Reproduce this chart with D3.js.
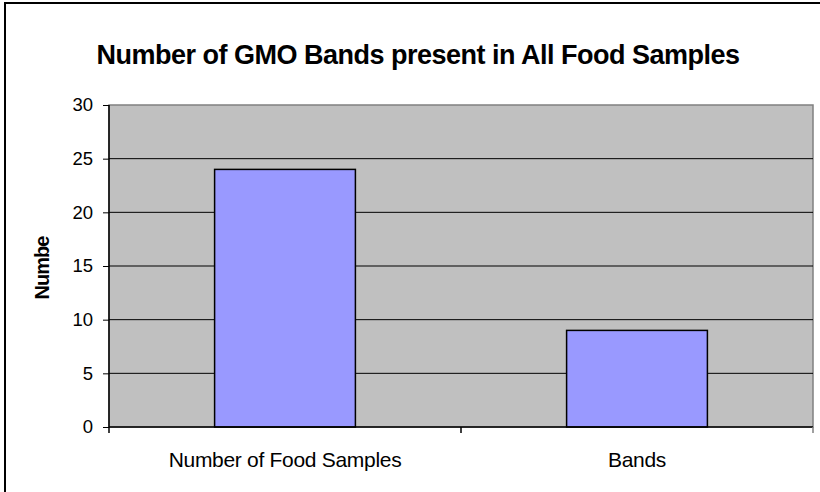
<!DOCTYPE html>
<html>
<head>
<meta charset="utf-8">
<script src="https://cdn.jsdelivr.net/npm/d3@7"></script>
<style>
body{margin:0;background:#fff;}
text{font-family:"Liberation Sans",Arial,sans-serif;}
</style>
</head>
<body>
<svg id="chart" width="820" height="492"></svg>
<script>
let categories = ["Number of Food Samples","Bands"];
let values = [24,9];
let yTicks = [0,5,10,15,20,25,30];
let title = "Number of GMO Bands present in All Food Samples";
let yTitle = "Numbe";

let svg = d3.select("#chart");
let pLeft = 109, pTop = 105, pRight = 813, pBottom = 427;

//outer frame (image is cropped on right and bottom)
svg.append("rect").attr("x",5).attr("y",3).attr("width",830).attr("height",510)
    .attr("fill","none").attr("stroke","#000").attr("stroke-width",2);

let x = d3.scaleBand().domain(categories).range([pLeft,pRight]).paddingInner(0.6).paddingOuter(0.3);
let y = d3.scaleLinear().domain([0,30]).range([pBottom,pTop]);

//plot area
svg.append("rect").attr("x",pLeft).attr("y",pTop).attr("width",pRight-pLeft).attr("height",pBottom-pTop)
    .attr("fill","#c0c0c0").attr("stroke","#808080").attr("stroke-width",1.5);

//gridlines
svg.append("g").selectAll("line").data(yTicks.filter(d=>d>0 && d<30)).enter().append("line")
    .attr("x1",pLeft).attr("x2",pRight).attr("y1",d=>y(d)).attr("y2",d=>y(d))
    .attr("stroke","#000").attr("stroke-width",1);

//bars
svg.append("g").selectAll("rect").data(values).enter().append("rect")
    .attr("x",(d,i)=>x(categories[i])).attr("width",x.bandwidth())
    .attr("y",d=>y(d)).attr("height",d=>pBottom-y(d))
    .attr("fill","#9999ff").attr("stroke","#000").attr("stroke-width",1.5);

//y axis
let yAxis = d3.axisLeft(y).tickValues(yTicks).tickSize(6).tickPadding(10);
let gy = svg.append("g").attr("transform","translate("+pLeft+",0)").call(yAxis);
gy.select(".domain").attr("stroke","#000").attr("stroke-width",1.5).attr("d","M0,"+pTop+"V"+pBottom);
gy.selectAll("text").attr("font-size",18.5).attr("fill","#000").attr("font-family","Liberation Sans, Arial, sans-serif");

//x axis
let xEdges = [pLeft,(pLeft+pRight)/2,pRight];
svg.append("line").attr("x1",pLeft).attr("x2",pRight).attr("y1",pBottom).attr("y2",pBottom)
    .attr("stroke","#000").attr("stroke-width",1.5);
svg.append("g").selectAll("line").data(xEdges).enter().append("line")
    .attr("x1",d=>d).attr("x2",d=>d).attr("y1",pBottom).attr("y2",pBottom+6)
    .attr("stroke",(d,i)=>i==2?"#808080":"#000").attr("stroke-width",1.5);
svg.append("g").selectAll("text").data(categories).enter().append("text")
    .attr("x",d=>x(d)+x.bandwidth()/2).attr("y",467).attr("text-anchor","middle")
    .attr("font-size",21).attr("letter-spacing",-0.3).text(d=>d);

//title
svg.append("text").attr("x",418).attr("y",64).attr("text-anchor","middle")
    .attr("font-size",27).attr("font-weight","bold").attr("letter-spacing",-0.5).text(title);

//y title
svg.append("text").attr("transform","translate(49,268) rotate(-90)").attr("text-anchor","middle")
    .attr("font-size",20).attr("font-weight","bold").attr("letter-spacing",-1).text(yTitle);
</script>
</body>
</html>
